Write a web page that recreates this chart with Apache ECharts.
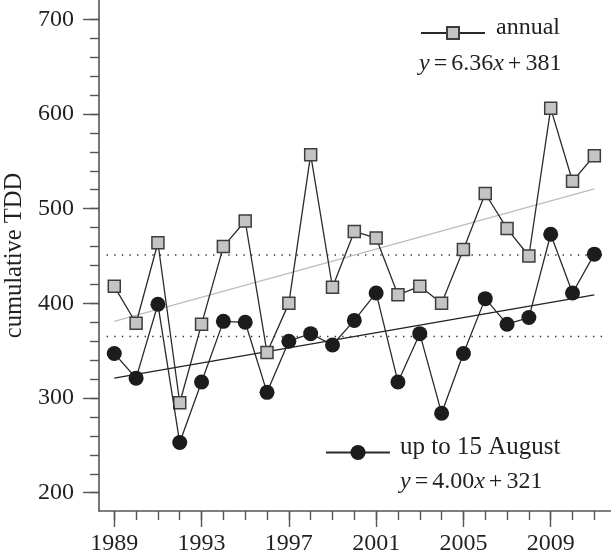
<!DOCTYPE html>
<html>
<head>
<meta charset="utf-8">
<script src="https://cdn.jsdelivr.net/npm/echarts@6/dist/echarts.min.js"></script>
<style>
html,body{margin:0;padding:0;background:#fff;}
#c{width:611px;height:558px;}
</style>
</head>
<body>
<div id="c"></div>
<script>
// ---- data ----
var years = [1989,1990,1991,1992,1993,1994,1995,1996,1997,1998,1999,2000,2001,2002,2003,2004,2005,2006,2007,2008,2009,2010,2011];
var annual = [418,379,464,295,378,460,487,348,400,557,417,476,469,409,418,400,457,516,479,450,606,529,556];
var august = [347,321,399,253,317,381,380,306,360,368,356,382,411,317,368,284,347,405,378,385,473,411,452];
// regression lines (endpoints, y = 6.36x + 381 and y = 4.00x + 321, x = years since 1989)
var trendAnnualX = [1989, 2011];
var trendAnnualY = [381, 520.9];
var trendAugustX = [1989, 2011];
var trendAugustY = [321, 409];
// dotted reference levels
var refLevels = [451, 365];
var refX = [1988.65, 2011.5];
// axis ticks
var xMajorTicks = [1989,1993,1997,2001,2005,2009];
var xMinorTicks = years;
var yMajorTicks = [200,300,400,500,600,700];
var yMinorTicks = [200,220,240,260,280,300,320,340,360,380,400,420,440,460,480,500,520,540,560,580,600,620,640,660,680,700];

var FONT = '"Liberation Serif", "DejaVu Serif", serif';
var TXT = '#231f20';
var AX = '#555555';

function pairs(xs, ys){ return xs.map(function(x,i){ return [x, ys[i]]; }); }

var series = [];
refLevels.forEach(function(v, k){
  series.push({
    type:'line', name:'ref'+k, data: pairs(refX, [v, v]), symbol:'none', silent:true,
    lineStyle:{color:'#333', width:1.4, type:[1.4,6.2]}, z:1
  });
});
series.push({type:'line', name:'trendA', data: pairs(trendAnnualX, trendAnnualY), symbol:'none',
  lineStyle:{color:'#bdbdbd', width:1.4}, z:2});
series.push({type:'line', name:'trendB', data: pairs(trendAugustX, trendAugustY), symbol:'none',
  lineStyle:{color:'#222', width:1.4}, z:2});
series.push({type:'line', name:'annual', data: pairs(years, annual), symbol:'rect', symbolSize:12,
  lineStyle:{color:'#2a2a2a', width:1.3},
  itemStyle:{color:'#c4c4c4', borderColor:'#3d3d3d', borderWidth:1.5}, z:3});
series.push({type:'line', name:'up to 15 August', data: pairs(years, august), symbol:'circle', symbolSize:15,
  lineStyle:{color:'#2a2a2a', width:1.3},
  itemStyle:{color:'#1c1c1c', borderWidth:0}, z:4});

var xMin = 1988.3, xMax = 2011.763, yMin = 180.7, yMax = 720.4;
var plain = function(v){ return String(Math.round(v)); };
var eqRich = {
  i:{fontSize:24, fontFamily:FONT, fontStyle:'italic', fill:TXT},
  o:{fontSize:24, fontFamily:FONT, fill:TXT, padding:[0,4]}
};

var option = {
  animation:false,
  backgroundColor:'#fff',
  grid:{left:99, right:0, top:0, bottom:47, containLabel:false, outerBoundsMode:'none'},
  xAxis:[
    {type:'value', min:xMin, max:xMax,
     axisLine:{show:true, lineStyle:{color:AX, width:1.6}},
     axisTick:{show:true, customValues:xMajorTicks, length:16, inside:false, lineStyle:{color:AX, width:1.4}},
     axisLabel:{customValues:xMajorTicks, formatter:plain, margin:21, fontSize:24, fontFamily:FONT, color:TXT},
     splitLine:{show:false}},
    {type:'value', min:xMin, max:xMax, gridIndex:0, position:'bottom',
     axisLine:{show:false},
     axisTick:{show:true, customValues:xMinorTicks, length:9, lineStyle:{color:AX, width:1.4}},
     axisLabel:{show:false}, splitLine:{show:false}}
  ],
  yAxis:[
    {type:'value', min:yMin, max:yMax,
     name:'cumulative TDD', nameLocation:'middle', nameGap:70,
     nameTextStyle:{fontSize:24.5, fontFamily:FONT, color:TXT},
     axisLine:{show:true, lineStyle:{color:AX, width:1.6}},
     axisTick:{show:true, customValues:yMajorTicks, length:16, lineStyle:{color:AX, width:1.4}},
     axisLabel:{customValues:yMajorTicks, formatter:plain, margin:25, fontSize:24, fontFamily:FONT, color:TXT},
     splitLine:{show:false}},
    {type:'value', min:yMin, max:yMax, position:'left',
     axisLine:{show:false},
     axisTick:{show:true, customValues:yMinorTicks, length:9, lineStyle:{color:AX, width:1.4}},
     axisLabel:{show:false}, splitLine:{show:false}}
  ],
  legend:[
    {data:['annual'], left:420, top:16, padding:0, itemWidth:64, itemHeight:15,
     formatter:'{a|{name}}',
     textStyle:{fontSize:24, fontFamily:FONT, color:TXT,
       rich:{a:{fontSize:24, fontFamily:FONT, color:TXT, padding:[0,0,10,6]}}}},
    {data:['up to 15 August'], left:325, top:435, padding:0, itemWidth:64, itemHeight:19,
     formatter:'{a|{name}}',
     textStyle:{fontSize:25, fontFamily:FONT, color:TXT,
       rich:{a:{fontSize:25, fontFamily:FONT, color:TXT, padding:[0,0,10,5]}}}}
  ],
  graphic:[
    {type:'text', left:419, top:52, silent:true,
     style:{text:'{i|y}{o|=}6.36{i|x}{o|+}381', rich:eqRich, fontSize:24, fontFamily:FONT, fill:TXT}},
    {type:'text', left:400, top:470, silent:true,
     style:{text:'{i|y}{o|=}4.00{i|x}{o|+}321', rich:eqRich, fontSize:24, fontFamily:FONT, fill:TXT}}
  ],
  series: series.map(function(s){ s.xAxisIndex = 0; s.yAxisIndex = 0; return s; })
};

var chart = echarts.init(document.getElementById('c'), null, {renderer:'canvas'});
chart.setOption(option);
</script>
</body>
</html>
